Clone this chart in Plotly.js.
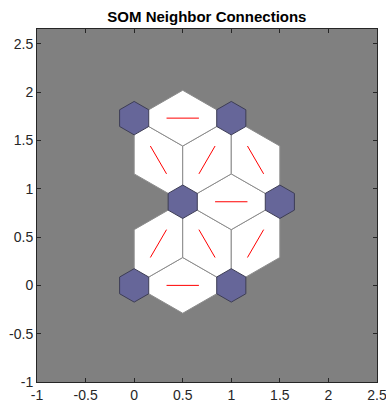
<!DOCTYPE html>
<html>
<head>
<meta charset="utf-8">
<script src="https://cdn.plot.ly/plotly-3.0.1.min.js"></script>
<style>html,body{margin:0;padding:0;background:#fff;}#chart{width:386px;height:407px;}</style>
</head>
<body>
<div id="chart"></div>
<script>
// Neuron positions (hextop 2x3)
const neuronX = [0, 1, 0.5, 1.5, 0, 1];
const neuronY = [0, 0, 0.866, 0.866, 1.732, 1.732];
// Neighbor connections (indices into neuron arrays)
const linkFrom = [0, 0, 1, 1, 2, 2, 2, 3, 4];
const linkTo   = [1, 2, 2, 3, 3, 4, 5, 5, 5];
const xTicks = [-1, -0.5, 0, 0.5, 1, 1.5, 2, 2.5];
const yTicks = [-1, -0.5, 0, 0.5, 1, 1.5, 2, 2.5];

const z = Math.sqrt(0.75) / 3;
const hexX = [-1, 0, 1, 1, 0, -1].map(v => v * 0.5 * 0.3);
const hexY = [1, 2, 1, -1, -2, -1].map(v => v * z * 0.3);
const edgeX = [-1, 0, 1, 0].map(v => v * 0.5);
const edgeY = [0, 1, 0, -1].map(v => v * z);

const traces = [];
// connection patches
for (let k = 0; k < linkFrom.length; k++) {
  const i = linkFrom[k], j = linkTo[k];
  const dx = neuronX[j] - neuronX[i], dy = neuronY[j] - neuronY[i];
  const a = Math.atan2(dy, dx);
  const mx = (neuronX[i] + neuronX[j]) / 2, my = (neuronY[i] + neuronY[j]) / 2;
  const px = [], py = [];
  for (let m = 0; m < edgeX.length; m++) {
    px.push(mx + edgeX[m] * Math.cos(a) - edgeY[m] * Math.sin(a));
    py.push(my + edgeX[m] * Math.sin(a) + edgeY[m] * Math.cos(a));
  }
  px.push(px[0]); py.push(py[0]);
  traces.push({x: px, y: py, type: 'scatter', mode: 'lines', fill: 'toself',
    fillcolor: '#ffffff', line: {color: '#8c8c8c', width: 1}, hoverinfo: 'skip', showlegend: false});
}
// red lines
for (let k = 0; k < linkFrom.length; k++) {
  const i = linkFrom[k], j = linkTo[k];
  const x1 = (2 * neuronX[i] + neuronX[j]) / 3, y1 = (2 * neuronY[i] + neuronY[j]) / 3;
  const x2 = (neuronX[i] + 2 * neuronX[j]) / 3, y2 = (neuronY[i] + 2 * neuronY[j]) / 3;
  traces.push({x: [x1, x2], y: [y1, y2], type: 'scatter', mode: 'lines',
    line: {color: '#ff0000', width: 1}, hoverinfo: 'skip', showlegend: false});
}
// neurons
for (let i = 0; i < neuronX.length; i++) {
  const px = hexX.map(v => neuronX[i] + v), py = hexY.map(v => neuronY[i] + v);
  px.push(px[0]); py.push(py[0]);
  traces.push({x: px, y: py, type: 'scatter', mode: 'lines', fill: 'toself',
    fillcolor: '#666699', line: {color: '#3d3d55', width: 1}, hoverinfo: 'skip', showlegend: false});
}

const axisCommon = {
  showgrid: false, zeroline: false, showline: true, linecolor: '#262626', linewidth: 1,
  mirror: 'ticks', ticks: 'inside', ticklen: 4, tickcolor: '#262626', tickwidth: 1,
  tickfont: {family: 'Liberation Sans, Arial, sans-serif', size: 14, color: '#262626'},
  tickmode: 'array', ticklabeloverflow: 'allow'
};
const layout = {
  width: 386, height: 407,
  margin: {l: 37, r: 9, t: 29, b: 25, pad: 0},
  paper_bgcolor: '#ffffff', plot_bgcolor: '#808080',
  title: {text: '<b>SOM Neighbor Connections</b>', x: 0.536, xanchor: 'center', y: 0.958, yanchor: 'middle',
    font: {family: 'Liberation Sans, Arial, sans-serif', size: 15, color: '#000000'}},
  xaxis: Object.assign({}, axisCommon, {range: [-1.0005, 2.5005], tickvals: xTicks, ticktext: xTicks.map(String)}),
  yaxis: Object.assign({}, axisCommon, {range: [-1.0005, 2.655], tickvals: yTicks, ticktext: yTicks.map(String)}),
  showlegend: false
};
Plotly.newPlot('chart', traces, layout, {displayModeBar: false, staticPlot: true});
</script>
</body>
</html>
